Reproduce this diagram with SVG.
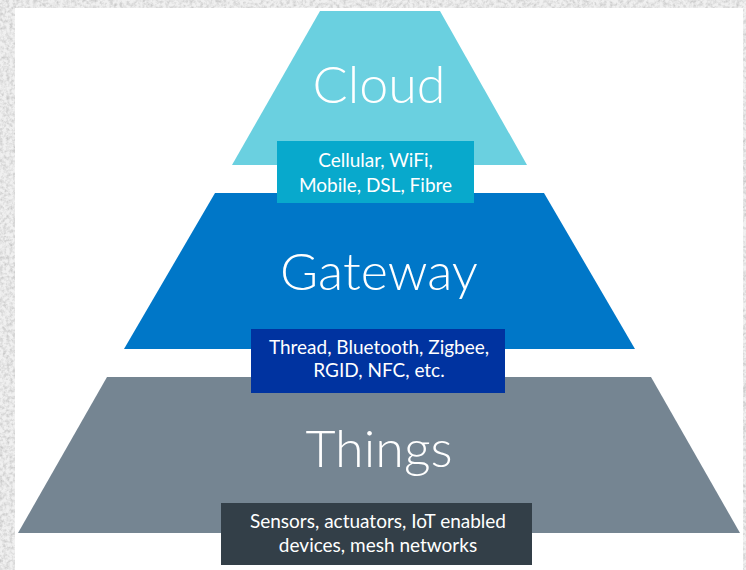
<svg xmlns="http://www.w3.org/2000/svg" width="746" height="570" viewBox="0 0 746 570">
<defs>
<filter id="marble" x="0" y="0" width="100%" height="100%">
<feTurbulence type="fractalNoise" baseFrequency="0.3" numOctaves="3" seed="4" result="n"/>
<feColorMatrix in="n" type="matrix" values="0 0 0 0 0  0 0 0 0 0  0 0 0 0 0  -1.6 0 0 0 1.0" result="a"/>
<feFlood flood-color="#bcbcbc" result="c"/>
<feComposite in="c" in2="a" operator="in" result="d"/>
<feFlood flood-color="#f0f0f0" result="bg"/>
<feMerge><feMergeNode in="bg"/><feMergeNode in="d"/></feMerge>
</filter>
<style>
.head{font-family:Lato,"Open Sans","Liberation Sans",sans-serif;font-size:52px;font-weight:300;fill:#ffffff;text-anchor:middle}
.sub{font-family:Lato,"Open Sans","Liberation Sans",sans-serif;font-size:19px;fill:#ffffff;text-anchor:middle}
</style>
</defs>
<rect x="0" y="0" width="746" height="570" fill="#ececec" filter="url(#marble)"/>
<rect x="15" y="8" width="728" height="562" fill="#ffffff"/>
<g id="things">
<polygon points="107,377 651,377 740,533 18,533" fill="#758592"/>
<text class="head" x="379" y="467">Things</text>
</g>
<g id="gateway">
<polygon points="215,193 544,193 635,349 124,349" fill="#0077c8"/>
<text class="head" x="379" y="290">Gateway</text>
</g>
<g id="cloud">
<polygon points="320,11 440,11 527,165 232,165" fill="#6ad0e0"/>
<text class="head" x="379" y="103">Cloud</text>
</g>
<g id="cloud-links">
<rect x="277" y="141" width="197" height="62" fill="#08a9cc"/>
<text class="sub" x="375.5" y="167">Cellular, WiFi,</text>
<text class="sub" x="375.5" y="192">Mobile, DSL, Fibre</text>
</g>
<g id="gateway-links">
<rect x="251" y="329" width="254" height="64" fill="#0033a0"/>
<text class="sub" x="379" y="354">Thread, Bluetooth, Zigbee,</text>
<text class="sub" x="379" y="377">RGID, NFC, etc.</text>
</g>
<g id="things-links">
<rect x="221" y="503" width="311" height="62" fill="#333f48"/>
<text class="sub" x="378" y="528">Sensors, actuators, IoT enabled</text>
<text class="sub" x="378" y="552">devices, mesh networks</text>
</g>
<g id="connectors"></g>
</svg>
